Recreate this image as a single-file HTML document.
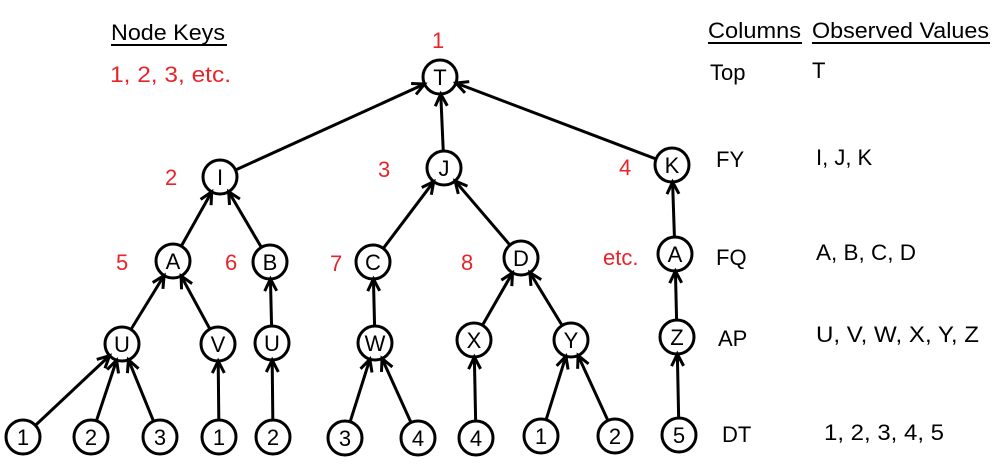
<!DOCTYPE html>
<html><head><meta charset="utf-8"><style>
html,body{margin:0;padding:0;background:#fff}
svg{display:block}
text{font-family:"Liberation Sans",sans-serif}
</style></head><body>
<svg width="998" height="468" viewBox="0 0 998 468" xmlns="http://www.w3.org/2000/svg">
<defs>
<marker id="ah" markerWidth="16" markerHeight="16" refX="13" refY="7" orient="auto" markerUnits="userSpaceOnUse" overflow="visible">
<path d="M1,1 L13,7 L1,13" fill="none" stroke="#000" stroke-width="3"/>
</marker>
</defs>
<g id="nodes"></g>
<g stroke="#000" stroke-width="3" fill="none" id="edges"></g>
<g id="labels"></g>
<g font-size="22" fill="#000">
<text x="111" y="40" textLength="114" lengthAdjust="spacingAndGlyphs">Node Keys</text>
<line x1="111" y1="45" x2="227" y2="45" stroke="#000" stroke-width="2"/>
<text x="708" y="38" textLength="93" lengthAdjust="spacingAndGlyphs">Columns</text>
<line x1="708" y1="43" x2="802" y2="43" stroke="#000" stroke-width="2"/>
<text x="812" y="38" textLength="177" lengthAdjust="spacingAndGlyphs">Observed Values</text>
<line x1="812" y1="43" x2="990" y2="43" stroke="#000" stroke-width="2"/>
<text x="710" y="80">Top</text><text x="812" y="78">T</text>
<text x="716" y="167">FY</text><text x="816" y="165">I, J, K</text>
<text x="716" y="265">FQ</text><text x="816" y="260" textLength="100" lengthAdjust="spacingAndGlyphs">A, B, C, D</text>
<text x="718" y="346">AP</text><text x="816" y="342" textLength="163" lengthAdjust="spacingAndGlyphs">U, V, W, X, Y, Z</text>
<text x="722" y="442">DT</text><text x="824" y="440" textLength="120" lengthAdjust="spacingAndGlyphs">1, 2, 3, 4, 5</text>
</g>
<g font-size="22" fill="#e8242b">
<text x="432" y="48">1</text>
<text x="110" y="82" textLength="121" lengthAdjust="spacingAndGlyphs">1, 2, 3, etc.</text>
<text x="165" y="185">2</text>
<text x="378" y="177">3</text>
<text x="619" y="175">4</text>
<text x="116" y="270">5</text>
<text x="225" y="270">6</text>
<text x="330" y="271">7</text>
<text x="461" y="270">8</text>
<text x="603" y="265">etc.</text>
</g>
</svg>
<script>
var N={T:[440,77,'T'],I:[220,177,'I'],J:[444,168,'J'],K:[672,165,'K'],
A:[173,261,'A'],B:[270,262,'B'],C:[373,262,'C'],D:[521,258,'D'],A2:[675,254,'A'],
U:[122,344,'U'],V:[218,344,'V'],U2:[272,343,'U'],W:[375,343,'W'],X:[474,340,'X'],Y:[571,340,'Y'],Z:[677,337,'Z'],
b1:[23,437,'1'],b2:[91,437,'2'],b3:[160,437,'3'],b4:[219,437,'1'],b5:[273,437,'2'],b6:[345,438,'3'],b7:[418,438,'4'],b8:[476,438,'4'],b9:[541,436,'1'],b10:[615,436,'2'],b11:[679,435,'5']};
var E=[['I','T'],['J','T'],['K','T'],['A','I'],['B','I'],['C','J'],['D','J'],['A2','K'],
['U','A'],['V','A'],['U2','B'],['W','C'],['X','D'],['Y','D'],['Z','A2'],
['b1','U'],['b2','U'],['b3','U'],['b4','V'],['b5','U2'],['b6','W'],['b7','W'],['b8','X'],['b9','Y'],['b10','Y'],['b11','Z']];
var ns='http://www.w3.org/2000/svg',R=17;
var eg=document.getElementById('edges'),ng=document.getElementById('nodes'),lg=document.getElementById('labels');
E.forEach(function(e){var a=N[e[0]],b=N[e[1]];var dx=b[0]-a[0],dy=b[1]-a[1],L=Math.hypot(dx,dy);
var l=document.createElementNS(ns,'line');
l.setAttribute('x1',a[0]+dx/L*R);l.setAttribute('y1',a[1]+dy/L*R);
l.setAttribute('x2',b[0]-dx/L*R);l.setAttribute('y2',b[1]-dy/L*R);
l.setAttribute('marker-end','url(#ah)');eg.appendChild(l);});
for(var k in N){var n=N[k];var c=document.createElementNS(ns,'circle');
c.setAttribute('cx',n[0]);c.setAttribute('cy',n[1]);c.setAttribute('r',R);
c.setAttribute('fill','#fff');c.setAttribute('stroke','#000');c.setAttribute('stroke-width','3');ng.appendChild(c);
var t=document.createElementNS(ns,'text');t.setAttribute('x',n[0]);t.setAttribute('y',n[1]+8);
t.setAttribute('text-anchor','middle');t.setAttribute('font-size','22');t.textContent=n[2];lg.appendChild(t);}
</script>
</body></html>
